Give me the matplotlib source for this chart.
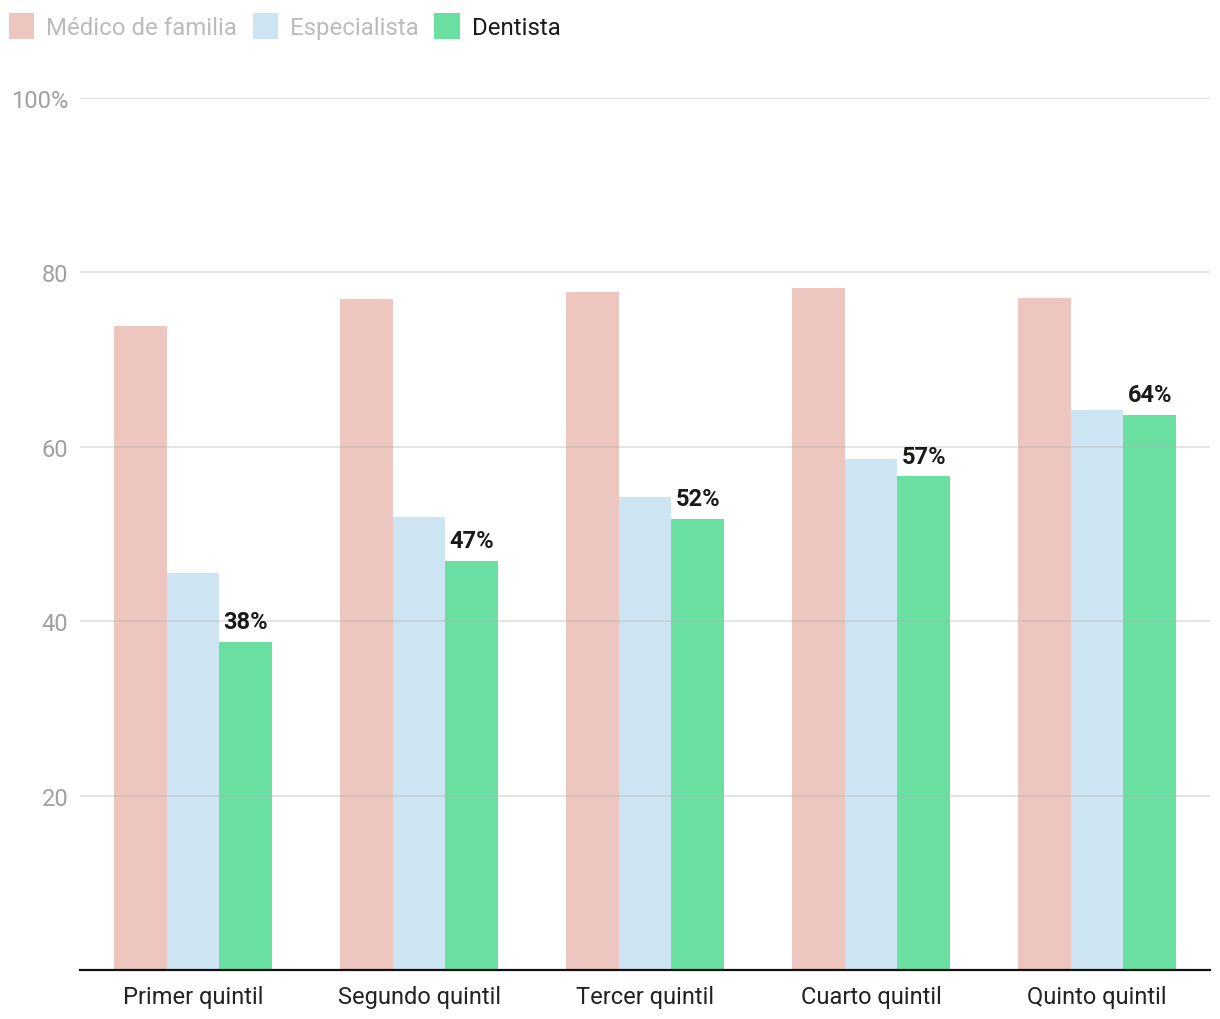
import numpy as np
import matplotlib.pyplot as plt
from matplotlib.patches import Patch

plt.rcParams['font.family'] = ['Roboto', 'DejaVu Sans']

# datos
quintiles = ['Primer quintil', 'Segundo quintil', 'Tercer quintil', 'Cuarto quintil', 'Quinto quintil']
medico = [73.9, 76.9, 77.8, 78.2, 77.1]
especialista = [45.5, 52.0, 54.3, 58.6, 64.2]
dentista = [37.6, 46.9, 51.7, 56.6, 63.7]

series = ['Médico de familia', 'Especialista', 'Dentista']
colors = ['#ecc6bf', '#cde4f2', '#69e0a2']

fig = plt.figure(figsize=(12.2, 10.2), dpi=100)
ax = fig.add_axes([80 / 1220, 49 / 1020, 1130 / 1220, 872 / 1020])

x = np.arange(len(quintiles))
w = 0.2345
for i, (vals, c) in enumerate(zip([medico, especialista, dentista], colors)):
    ax.bar(x + (i - 1) * w, vals, width=w, color=c, zorder=1)

# etiquetas de la serie Dentista
for xi, v in zip(x, dentista):
    ax.text(xi + w, v + 1.0, f"{round(v)}%", ha='center', va='bottom',
            fontsize=17, fontweight='bold', color='#1a1a1a', zorder=3)

ax.set_xlim(-0.5, len(quintiles) - 0.5)
ax.set_ylim(0, 100)
ax.set_yticks([20, 40, 60, 80, 100])
ax.set_yticklabels(['20', '40', '60', '80', '100%'])
ax.set_xticks(x)
ax.set_xticklabels(quintiles)
ax.tick_params(axis='y', length=0, pad=8.5, labelsize=17, labelcolor='#a0a0a0')
ax.tick_params(axis='x', length=0, pad=11, labelsize=17, labelcolor='#222222')

ax.grid(axis='y', color='#b0b0b0', linewidth=1.4, alpha=0.35, zorder=2)
ax.set_axisbelow(False)
for s in ['top', 'right', 'left']:
    ax.spines[s].set_visible(False)
ax.spines['bottom'].set_color('#111111')
ax.spines['bottom'].set_linewidth(1.6)
ax.spines['bottom'].set_zorder(4)

handles = [Patch(facecolor=c, edgecolor='none') for c in colors]
leg = fig.legend(handles, series, loc='upper left',
                 bbox_to_anchor=(9 / 1220, 1 - 14 / 1020),
                 ncol=3, frameon=False, fontsize=17.3, handlelength=1.05,
                 handleheight=1.3, handletextpad=0.5, columnspacing=0.65,
                 borderaxespad=0, borderpad=0)
for t, c in zip(leg.get_texts(), ['#bbbbbb', '#bbbbbb', '#1a1a1a']):
    t.set_color(c)

fig.savefig('out.png', dpi=100, facecolor='white')
